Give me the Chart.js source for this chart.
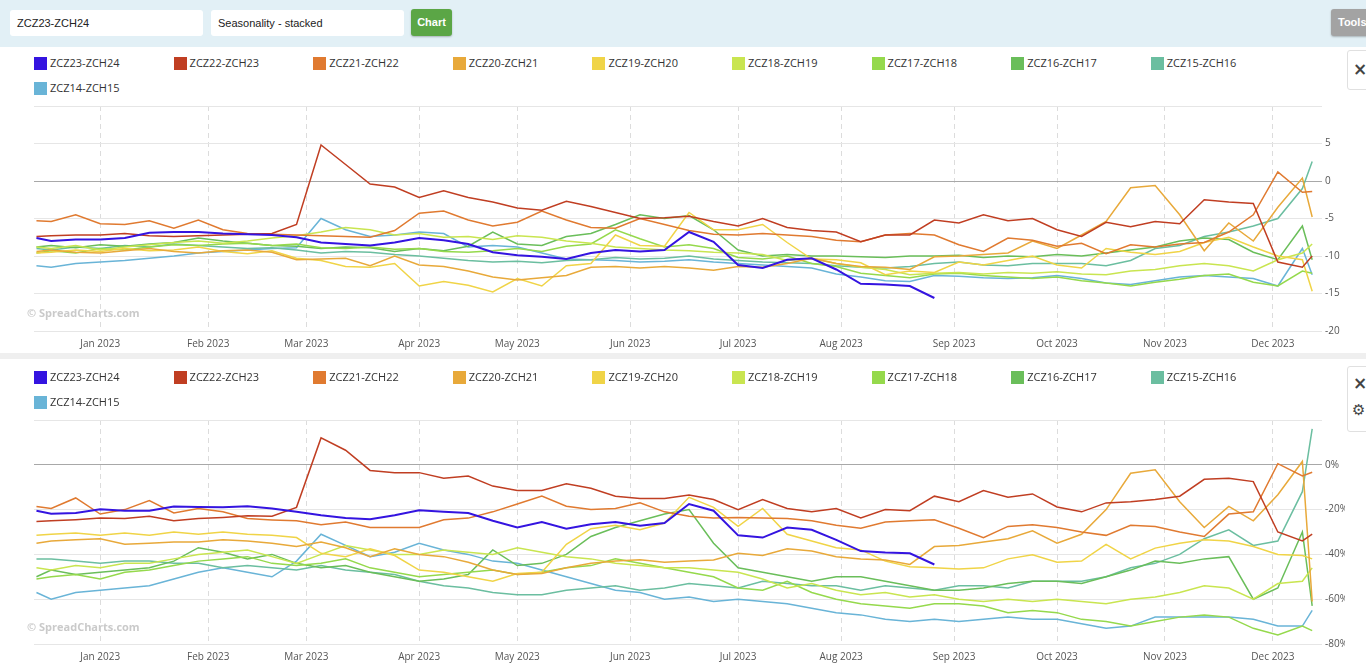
<!DOCTYPE html>
<html>
<head>
<meta charset="utf-8">
<title>ZCZ23-ZCH24 Seasonality - stacked</title>
<script src="https://cdn.jsdelivr.net/npm/chart.js@4.4.0/dist/chart.umd.min.js"></script>
<style>
  body { margin: 0; width: 1366px; height: 672px; overflow: hidden; background: #fff; position: relative; font-family: "Open Sans", sans-serif; }
  .topbar { position: absolute; left: 0; top: 0; width: 1366px; height: 47px; background: #e2f0f6; }
  .inp { position: absolute; top: 10px; height: 26px; background: #fff; border-radius: 3px; font: 11px "Liberation Sans", Arial, sans-serif; color: #222; line-height: 26px; padding-left: 7px; box-sizing: border-box; }
  .btn { position: absolute; top: 9px; height: 27px; color: #fff; font: bold 11px "Liberation Sans", Arial, sans-serif; line-height: 27px; text-align: center; border-radius: 3px; box-shadow: 0 1px 2px rgba(0,0,0,.25); }
  .legend { position: absolute; left: 0; width: 1340px; }
  .item { position: absolute; font-size: 11px; color: #333; white-space: nowrap; line-height: 14px; }
  .item span { position: absolute; left: 0; top: 0; width: 13px; height: 13px; }
  .item b { position: absolute; left: 16px; top: -1px; font-weight: normal; }
  canvas { position: absolute; left: 0; }
  .mark { position: absolute; left: 27px; font: bold 11px "Open Sans", sans-serif; color: #cacaca; }
  .side { position: absolute; left: 1347px; width: 24px; background: #fff; border: 1px solid #e0e0e0; border-radius: 3px; color: #444; font: bold 17px "DejaVu Sans", sans-serif; }
  .sep { position: absolute; left: 0; top: 353px; width: 1366px; height: 6px; background: #efefef; }
</style>
</head>
<body>
<div class="topbar">
  <div class="inp" style="left:10px;width:193px;">ZCZ23-ZCH24</div>
  <div class="inp" style="left:211px;width:193px;">Seasonality - stacked</div>
  <div class="btn" style="left:411px;width:41px;background:#5ba646;">Chart</div>
  <div class="btn" style="left:1331px;width:40px;background:#a3a3a3;text-align:left;padding-left:7px;box-sizing:border-box;">Tools</div>
</div>

<div class="legend" id="legendTop" style="top:57px;"></div>
<div class="side" style="top:50px;height:38px;"><div style="position:absolute;left:5px;top:8px;">×</div></div>
<canvas id="chartTop" width="1345" height="258" style="top:96px;"></canvas>
<div class="mark" style="top:305px;">© SpreadCharts.com</div>

<div class="sep"></div>

<div class="legend" id="legendBottom" style="top:371px;"></div>
<div class="side" style="top:366px;height:64px;"><div style="position:absolute;left:5px;top:6px;">×</div><div style="position:absolute;left:4px;top:34px;font-size:15px;">⚙</div></div>
<canvas id="chartBottom" width="1345" height="258" style="top:410px;"></canvas>
<div class="mark" style="top:619px;">© SpreadCharts.com</div>

<script>
// x = weekday index, 0 = first weekday of Jan 2023 (weekends not on the axis)
const days = [-13, -10, -5, 0, 5, 10, 15, 20, 25, 30, 35, 40, 45, 50, 55, 60, 65, 70, 75, 80,
  85, 90, 95, 100, 105, 110, 115, 120, 125, 130, 135, 140, 145, 150, 155, 160, 165, 170, 175, 180,
  185, 190, 195, 200, 205, 210, 215, 220, 225, 230, 235, 240, 245, 247];

const monthIdx = [0, 22, 42, 65, 85, 108, 130, 151, 174, 195, 217, 239];
const monthLabels = ['Jan 2023', 'Feb 2023', 'Mar 2023', 'Apr 2023', 'May 2023', 'Jun 2023',
  'Jul 2023', 'Aug 2023', 'Sep 2023', 'Oct 2023', 'Nov 2023', 'Dec 2023'];

const seriesNames = ['ZCZ23-ZCH24', 'ZCZ22-ZCH23', 'ZCZ21-ZCH22', 'ZCZ20-ZCH21', 'ZCZ19-ZCH20',
  'ZCZ18-ZCH19', 'ZCZ17-ZCH18', 'ZCZ16-ZCH17', 'ZCZ15-ZCH16', 'ZCZ14-ZCH15'];
const seriesColors = ['#3414e0', '#c03e22', '#e07a30', '#e8a93a', '#f0d447',
  '#c9e550', '#95d94c', '#6abe5a', '#6bbea0', '#69b4d7'];

// ---- top chart: spread (cents) ----
const z23Top = [-7.6, -8.0, -7.8, -7.8, -7.6, -6.9, -6.8, -6.8, -7.0, -7.1,
  -7.2, -7.5, -8.2, -8.4, -8.6, -8.2, -7.6, -7.9, -8.4, -9.5,
  -9.9, -10.1, -10.4, -9.6, -9.2, -9.4, -9.2, -6.8, -8.1, -11.2,
  -11.6, -10.5, -10.3, -11.8, -13.7, -13.8, -14.0, -15.6, null, null,
  null, null, null, null, null, null, null, null, null, null,
  null, null, null, null];
const z22Top = [-7.4, -7.3, -7.2, -7.2, -7.0, -7.3, -7.4, -7.3, -7.2, -7.1,
  -7.0, -5.8, 4.8, 2.2, -0.4, -0.8, -2.2, -1.3, -2.2, -2.8,
  -3.6, -3.9, -2.7, -3.4, -4.2, -5.0, -4.9, -4.7, -5.4, -6.0,
  -5.0, -6.2, -6.6, -6.8, -8.1, -7.2, -7.2, -5.2, -5.6, -4.5,
  -5.3, -5.0, -6.5, -7.4, -5.5, -6.1, -5.4, -5.7, -2.5, -2.8,
  -3.0, -10.8, -11.5, -10.0];
const z21Top = [-5.3, -5.4, -4.5, -5.7, -5.8, -5.3, -6.3, -5.2, -6.5, -7.0,
  -7.1, -7.2, -7.3, -7.4, -7.5, -6.6, -4.3, -4.0, -5.2, -6.0,
  -5.5, -4.0, -5.2, -6.2, -6.3, -5.0, -5.8, -6.6, -7.1, -7.2,
  -7.0, -7.2, -7.4, -7.9, -8.1, -7.2, -7.0, -7.2, -8.5, -9.4,
  -7.6, -7.9, -8.7, -8.3, -9.7, -8.5, -8.8, -8.4, -8.2, -6.8,
  -4.5, 1.2, -1.5, -1.4];
const z20Top = [-9.4, -9.2, -9.5, -9.6, -9.3, -9.0, -9.4, -9.6, -9.3, -9.2,
  -9.5, -10.5, -10.4, -10.3, -11.3, -10.0, -11.2, -11.4, -12.0, -12.8,
  -13.2, -12.9, -12.6, -11.5, -11.4, -11.6, -11.4, -11.6, -11.9, -11.4,
  -11.5, -11.0, -10.3, -11.0, -11.4, -11.5, -11.8, -10.1, -10.0, -9.8,
  -9.6, -8.0, -9.0, -7.2, -5.4, -0.9, -0.6, -4.5, -9.3, -5.6,
  -8.0, -3.5, 0.4, -4.8];
const z19Top = [-9.6, -9.5, -9.2, -9.4, -9.0, -9.3, -9.2, -8.8, -9.4, -9.7,
  -9.3, -10.3, -10.6, -11.4, -11.5, -11.0, -14.0, -13.4, -13.9, -14.8,
  -13.0, -14.0, -11.3, -11.0, -7.2, -8.6, -8.7, -4.2, -6.5, -6.5,
  -5.8, -8.2, -10.4, -10.5, -10.9, -12.5, -12.0, -12.2, -10.8, -11.2,
  -10.6, -10.0, -11.2, -11.6, -9.0, -9.5, -9.8, -9.4, -8.2, -7.5,
  -8.8, -10.0, -10.5, -14.7];
const z18Top = [-8.8, -9.0, -8.6, -9.2, -8.8, -8.5, -8.2, -8.0, -8.3, -8.0,
  -7.6, -7.3, -6.8, -6.2, -6.5, -7.2, -7.0, -7.5, -7.4, -7.8,
  -7.3, -7.5, -8.0, -8.3, -8.8, -9.0, -9.2, -9.3, -9.5, -9.6,
  -9.8, -10.6, -10.3, -11.0, -11.5, -11.8, -12.5, -12.3, -12.2, -12.4,
  -12.2, -12.3, -12.1, -12.4, -12.5, -12.0, -11.8, -11.3, -11.0, -11.3,
  -12.0, -10.5, -9.6, -8.4];
const z17Top = [-9.6, -9.3, -9.6, -9.0, -9.2, -8.8, -8.5, -8.6, -8.4, -8.3,
  -8.6, -8.4, -8.9, -9.0, -8.8, -9.1, -9.0, -9.4, -9.5, -9.3,
  -9.0, -9.4, -8.7, -8.4, -6.5, -7.7, -8.8, -8.5, -9.0, -10.2,
  -10.4, -10.0, -11.0, -11.4, -12.3, -12.6, -12.9, -12.4, -12.3, -12.6,
  -12.8, -13.0, -12.8, -13.3, -13.6, -14.0, -13.5, -13.1, -12.6, -12.4,
  -13.5, -14.0, -12.0, -12.3];
const z16Top = [-8.8, -8.6, -8.9, -8.5, -8.7, -8.4, -8.2, -7.6, -8.0, -8.3,
  -8.6, -8.7, -9.0, -8.8, -8.9, -9.4, -9.0, -9.3, -8.7, -6.8,
  -8.4, -8.6, -7.4, -7.0, -5.8, -4.5, -5.0, -4.6, -6.5, -9.2,
  -10.0, -9.8, -10.0, -10.0, -10.1, -10.2, -10.0, -10.0, -9.9, -10.2,
  -10.0, -10.1, -9.8, -10.0, -9.6, -9.2, -8.8, -8.0, -7.6, -7.8,
  -9.5, -10.5, -6.0, -10.5];
const z15Top = [-9.0, -9.2, -8.8, -9.0, -8.6, -8.8, -8.4, -8.6, -8.8, -9.0,
  -8.9, -9.2, -9.6, -9.4, -9.5, -9.8, -10.0, -10.3, -10.6, -10.8,
  -10.7, -10.9, -10.6, -10.5, -10.2, -10.4, -10.3, -10.0, -10.4, -10.6,
  -10.8, -10.9, -11.0, -11.3, -11.5, -11.6, -11.4, -11.0, -10.8, -11.2,
  -11.3, -11.0, -11.0, -11.0, -11.3, -10.6, -9.0, -8.6, -7.4, -6.8,
  -6.0, -5.0, -1.0, 2.6];
const z14Top = [-11.3, -11.5, -11.0, -10.8, -10.6, -10.3, -10.0, -9.6, -9.4, -9.2,
  -9.0, -8.9, -5.0, -6.5, -7.4, -7.2, -6.8, -7.0, -8.8, -8.6,
  -8.8, -9.6, -10.4, -10.5, -10.6, -10.8, -10.7, -10.5, -10.8, -11.0,
  -11.2, -11.4, -11.6, -12.4, -12.8, -13.3, -13.4, -12.6, -12.7, -12.9,
  -13.0, -12.9, -12.6, -13.0, -13.6, -13.8, -13.3, -12.8, -12.6, -12.8,
  -13.0, -14.0, -9.0, -12.5];

// ---- bottom chart: spread (%) ----
const z23Bot = [-20.5, -21.8, -21.5, -19.8, -20.5, -20.5, -18.6, -18.8, -19.0, -18.5,
  -19.5, -21.0, -22.5, -23.7, -24.3, -22.5, -20.3, -21.0, -21.5, -25.0,
  -28.0, -25.5, -28.5, -26.5, -25.5, -27.2, -26.0, -17.5, -20.5, -31.5,
  -32.5, -28.0, -29.0, -33.5, -38.5, -39.2, -39.5, -44.5, null, null,
  null, null, null, null, null, null, null, null, null, null,
  null, null, null, null];
const z22Bot = [-25.3, -25.0, -24.5, -23.8, -24.0, -23.0, -25.0, -24.0, -23.5, -22.8,
  -23.0, -19.0, 12.0, 6.5, -2.5, -3.5, -3.5, -6.0, -5.0, -9.5,
  -11.5, -11.5, -8.5, -10.5, -14.0, -15.0, -15.0, -13.5, -15.5, -20.0,
  -15.5, -19.5, -21.0, -19.5, -23.7, -20.0, -20.5, -14.0, -16.5, -11.5,
  -14.5, -13.0, -18.8, -21.0, -17.0, -16.5, -15.5, -14.0, -6.5, -6.0,
  -7.5, -30.0, -34.0, -31.0];
const z21Bot = [-18.6, -19.5, -14.8, -22.0, -20.0, -16.0, -21.5, -19.5, -21.0, -24.0,
  -24.6, -25.0, -26.8, -25.5, -28.0, -28.0, -28.0, -24.5, -23.8, -21.0,
  -17.5, -14.0, -18.5, -20.0, -19.5, -17.0, -21.0, -23.0, -23.8, -23.5,
  -23.7, -24.0, -25.0, -27.0, -28.3, -25.5, -25.0, -24.5, -28.3, -32.5,
  -27.5, -26.8, -28.0, -30.0, -31.5, -27.0, -27.5, -30.0, -32.0, -22.0,
  -21.0, 0.5, -5.0, -3.3];
const z20Bot = [-35.0, -34.0, -33.5, -33.0, -35.5, -35.0, -34.5, -34.5, -33.5, -34.0,
  -35.0, -36.5, -34.5, -37.0, -41.0, -37.5, -40.0, -41.0, -43.5, -47.0,
  -49.0, -48.5, -46.0, -44.0, -43.0, -42.4, -43.5, -43.0, -42.5, -39.5,
  -40.5, -37.5, -38.5, -41.0, -42.0, -42.5, -44.5, -36.5, -36.0, -34.5,
  -33.0, -29.5, -35.0, -31.0, -20.0, -3.8, -2.2, -16.5, -28.0, -18.6,
  -25.0, -13.4, 1.5, -61.0];
const z19Bot = [-31.5, -31.0, -30.5, -31.5, -30.5, -31.5, -30.0, -31.0, -30.0, -31.0,
  -31.5, -32.5, -39.5, -41.0, -37.5, -40.5, -47.0, -48.0, -50.0, -52.0,
  -48.5, -48.0, -35.5, -28.5, -27.0, -29.0, -26.0, -14.5, -19.0, -27.5,
  -19.5, -31.0, -34.0, -37.0, -38.0, -43.0, -45.5, -46.0, -46.5, -46.0,
  -42.0, -40.2, -43.5, -43.0, -35.5, -42.0, -37.2, -35.0, -33.5, -34.0,
  -36.5, -40.0, -40.5, -42.0];
const z18Bot = [-46, -47, -45, -46, -44, -44, -42, -40, -39, -38,
  -41, -44, -40, -36, -38, -40, -40, -38, -39, -40,
  -37, -39, -41, -42, -44, -45, -46, -46, -47, -48,
  -51, -55, -53, -56, -58, -57, -59, -58, -60, -61,
  -60, -61, -60, -61, -62, -60, -59, -57, -54, -55,
  -60, -53, -52, -46];
const z17Bot = [-51, -50, -49, -51, -48, -47, -45, -43, -42, -41,
  -44, -45, -44, -42, -46, -48, -50, -49, -48, -47,
  -49, -48, -46, -45, -42, -44, -46, -48, -50, -55,
  -56, -52, -57, -60, -62, -63, -64, -62, -62, -63,
  -66, -65, -66, -69, -70, -72, -70, -68, -67, -68,
  -73, -76, -72, -74];
const z16Bot = [-50, -47, -49, -48, -47, -46, -43, -37, -39, -42,
  -40, -44, -46, -45, -48, -50, -52, -51, -49, -38,
  -45, -44, -40, -32, -28, -25, -22, -20, -35, -46,
  -48, -50, -52, -50, -50, -52, -54, -56, -56, -55,
  -53, -52, -52, -53, -50, -47, -43, -44, -42, -41,
  -60, -55, -30, -63];
const z15Bot = [-42, -42, -43, -44, -43, -43, -44, -44, -46, -45,
  -46, -47, -45, -47, -48, -49, -52, -54, -55, -57,
  -58, -58, -56, -55, -54, -56, -55, -53, -54, -55,
  -52, -53, -54, -54, -56, -54, -55, -56, -54, -54,
  -55, -52, -52, -52, -50, -46, -44, -40, -33, -29,
  -36, -34, -12, 16];
const z14Bot = [-57, -60, -57, -56, -55, -54, -51, -48, -46, -48,
  -50, -43, -31, -36, -41, -39, -35, -38, -40, -43,
  -44, -47, -50, -53, -56, -57, -60, -59, -61, -60,
  -61, -62, -64, -66, -67, -69, -70, -69, -70, -69,
  -68, -69, -69, -71, -73, -72, -68, -68, -68, -68,
  -69, -72, -72, -65];

const topSeries = [z23Top, z22Top, z21Top, z20Top, z19Top, z18Top, z17Top, z16Top, z15Top, z14Top];
const bottomSeries = [z23Bot, z22Bot, z21Bot, z20Bot, z19Bot, z18Bot, z17Bot, z16Bot, z15Bot, z14Bot];

function buildLegend(id) {
  const box = document.getElementById(id);
  seriesNames.forEach(function (name, i) {
    const el = document.createElement('div');
    el.className = 'item';
    el.style.left = (34 + (i % 9) * 139.6) + 'px';
    el.style.top = (Math.floor(i / 9) * 25) + 'px';
    el.innerHTML = '<span style="background:' + seriesColors[i] + '"></span><b>' + name + '</b>';
    box.appendChild(el);
  });
}

function makeChart(id, series, yMin, yMax, yStep, fmt, xAxisH) {
  const tickFont = { family: 'Open Sans', size: 10 };
  return new Chart(document.getElementById(id), {
    type: 'line',
    data: {
      datasets: series.map(function (vals, i) {
        return {
          label: seriesNames[i],
          data: days.map(function (d, k) { return { x: d, y: vals[k] }; }),
          borderColor: seriesColors[i],
          backgroundColor: seriesColors[i],
          borderWidth: i === 0 ? 2 : 1.5,
          pointRadius: 0,
          tension: 0,
          spanGaps: false
        };
      })
    },
    options: {
      responsive: false,
      animation: false,
      devicePixelRatio: 1,
      layout: { padding: { left: 34, top: 10, right: 0, bottom: 0 } },
      plugins: { legend: { display: false }, tooltip: { enabled: false } },
      scales: {
        x: {
          type: 'linear',
          min: -13.5,
          max: 249,
          afterBuildTicks: function (axis) { axis.ticks = monthIdx.map(function (v) { return { value: v }; }); },
          afterFit: function (axis) { axis.height = xAxisH; },
          grid: { color: '#dcdcdc', drawTicks: false },
          border: { display: false, dash: [5, 4] },
          ticks: {
            autoSkip: false, maxRotation: 0, padding: 7, color: '#555', font: tickFont,
            callback: function (v, i) { return monthLabels[i]; }
          }
        },
        y: {
          position: 'right',
          min: yMin,
          max: yMax,
          afterFit: function (axis) { axis.width = 23; },
          grid: {
            drawTicks: false,
            color: function (ctx) { return ctx.tick && ctx.tick.value === 0 ? '#a8a8a8' : '#e6e6e6'; }
          },
          border: { display: false },
          ticks: {
            stepSize: yStep, padding: 3, color: '#555', font: tickFont,
            callback: function (v) { return v === yMax ? '' : fmt(v); }
          }
        }
      }
    }
  });
}

buildLegend('legendTop');
buildLegend('legendBottom');
makeChart('chartTop', topSeries, -20, 10, 5, function (v) { return String(v); }, 23);
makeChart('chartBottom', bottomSeries, -80, 20, 20, function (v) { return v + '%'; }, 24);
</script>
</body>
</html>
